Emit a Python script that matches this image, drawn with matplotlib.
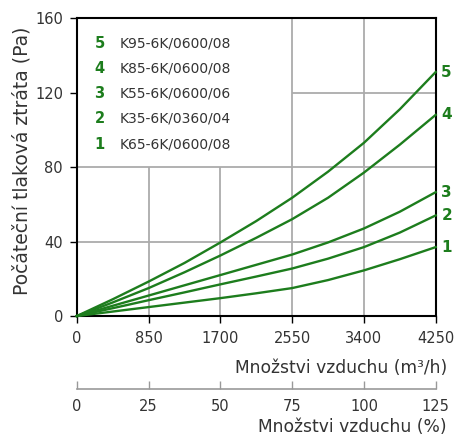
import matplotlib.pyplot as plt

plt.rcParams['font.family'] = ['DejaVu Sans']

# airflow (m3/h) and initial pressure drop (Pa)
airflow = [0, 425, 850, 1275, 1700, 2125, 2550, 2975, 3400, 3825, 4250]
drop_5 = [0, 9, 18.5, 28.5, 39.5, 51, 63.5, 77.5, 93, 111, 131]
drop_4 = [0, 7.3, 15, 23.5, 32.5, 42, 52, 63.5, 77, 92, 108]
drop_3 = [0, 5.5, 11, 16.5, 22, 27.5, 33, 39.5, 47, 56, 66.5]
drop_2 = [0, 4.2, 8.5, 12.7, 17, 21.2, 25.5, 30.8, 37, 44.8, 54]
drop_1 = [0, 2.4, 4.8, 7.2, 9.6, 12.2, 15, 19.3, 24.5, 30.5, 37]

numbers = ['5', '4', '3', '2', '1']
models = ['K95-6K/0600/08', 'K85-6K/0600/08', 'K55-6K/0600/06',
          'K35-6K/0360/04', 'K65-6K/0600/08']
series = [drop_5, drop_4, drop_3, drop_2, drop_1]

x_ticks = [0, 850, 1700, 2550, 3400, 4250]
y_ticks = [0, 40, 80, 120, 160]
pct_ticks = [0, 25, 50, 75, 100, 125]

green = '#1d7d1d'
grid_c = '#ababab'
text_c = '#333333'

fig = plt.figure(figsize=(4.66, 4.38), dpi=100)
ax = fig.add_axes([0.165, 0.2785, 0.770, 0.6804])

# grid, partly hidden behind the legend block
ax.hlines([40, 80], 0, 4250, color=grid_c, lw=1.3, zorder=1)
ax.hlines(120, 2550, 4250, color=grid_c, lw=1.3, zorder=1)
ax.vlines([850, 1700], 0, 80, color=grid_c, lw=1.3, zorder=1)
ax.vlines([2550, 3400], 0, 160, color=grid_c, lw=1.3, zorder=1)

for num, vals in zip(numbers, series):
    ax.plot(airflow, vals, color=green, lw=1.7, zorder=3, clip_on=False,
            solid_joinstyle='round')
    ax.annotate(num, (airflow[-1], vals[-1]), xytext=(4, 0),
                textcoords='offset points', va='center', ha='left',
                color=green, fontsize=11, fontweight='bold',
                annotation_clip=False)

# legend block
for i, (num, model) in enumerate(zip(numbers, models)):
    yy = 0.915 - i * 0.0845
    ax.text(0.063, yy, num, transform=ax.transAxes, color=green,
            fontsize=10.5, fontweight='bold', ha='center', va='center')
    ax.text(0.118, yy, model, transform=ax.transAxes, color=text_c,
            fontsize=10, ha='left', va='center')

ax.set_xlim(0, 4250)
ax.set_ylim(0, 160)
ax.set_xticks(x_ticks)
ax.set_yticks(y_ticks)
ax.tick_params(length=5, width=1, colors='black', labelcolor=text_c,
               labelsize=10.5)
ax.tick_params(axis='x', pad=6)
ax.tick_params(axis='y', pad=5)
for s in ax.spines.values():
    s.set_linewidth(1.5)
fig.text(22 / 466, 1 - 161 / 438, 'Počáteční tlaková ztráta (Pa)',
         rotation=90, ha='center', va='center', fontsize=13.5, color=text_c)
fig.text(447 / 466, 1 - 368 / 438, 'Množstvi vzduchu (m³/h)',
         ha='right', va='center', fontsize=12.3, color=text_c)

# second scale in percent of nominal airflow
sec = ax.secondary_xaxis(-0.245, functions=(lambda q: q / 34.0,
                                            lambda p: p * 34.0))
sec.set_xticks(pct_ticks)
sec.spines['bottom'].set_color('#999999')
sec.spines['bottom'].set_linewidth(1.2)
sec.tick_params(direction='in', length=6, width=1, colors='#999999',
                labelcolor=text_c, labelsize=10.5, pad=7)
fig.text(447 / 466, 1 - 427 / 438, 'Množstvi vzduchu (%)',
         ha='right', va='center', fontsize=12.3, color=text_c)

fig.savefig('out.png', dpi=100)
